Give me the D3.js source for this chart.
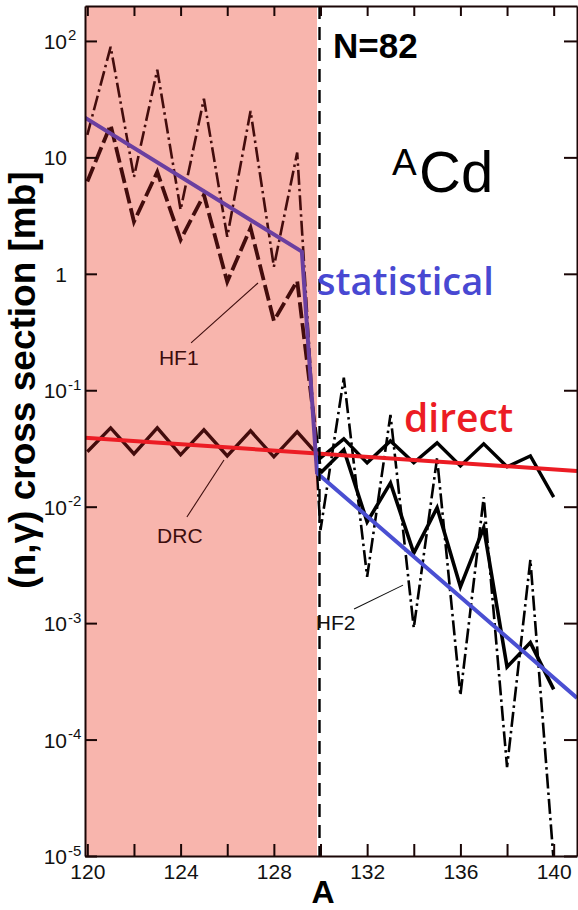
<!DOCTYPE html>
<html><head><meta charset="utf-8">
<script src="https://cdn.jsdelivr.net/npm/d3@7"></script>
<style>body{margin:0;background:#fff}svg{display:block}</style>
</head><body>
<svg id="chart" width="578" height="910"></svg>
<script>
// ---------- data ----------
const massNumbers = d3.range(120, 141);            // A = 120 .. 140
// HF1 (thick dashed in the shaded region, thick solid beyond N=82)
const hf1Values = [6.2, 19, 2.8, 7.5, 1.96, 4.77, 0.853, 2.48, 0.394, 0.87, 0.0195,
                   0.0308, 7.4e-3, 0.016, 4.0e-3, 9.8e-3, 2.05e-3, 6.6e-3, 4.2e-4, 6.8e-4, 2.7e-4];
// HF2 (dash-dot)
const hf2Values = [15.6, 89, 6.8, 56.6, 3.55, 31.9, 2.08, 25, 1.15, 11, 6.3e-3,
                   0.128, 2.5e-3, 0.0615, 9.1e-4, 0.0262, 2.4e-4, 0.0121, 5.8e-5, 3.5e-3, 9e-6];
// DRC (direct capture, solid)
const drcValues = [0.0296, 0.0475, 0.0284, 0.0475, 0.0279, 0.0457, 0.0273, 0.0448, 0.0268, 0.044, 0.0262,
                   0.0382, 0.0238, 0.0367, 0.0238, 0.0353, 0.0224, 0.0347, 0.022, 0.0273, 0.0121];
// trend lines
const directA = [119.9, 141];
const directValues = [0.039, 0.0203];
const statisticalA = [119.9, 129.2, 129.85, 141];
const statisticalValues = [21.9, 1.55, 0.0195, 2.28e-4];
// shaded region / shell closure
const shadedRange = [119.9, 129.85];
const shellClosureA = 130;
// axes
const xDomain = [119.9, 141];
const yDomain = [1e-5, Math.pow(10, 2.3)];
const xTickValues = [120, 122, 124, 126, 128, 130, 132, 134, 136, 138, 140];
const xTickLabels = [120, 124, 128, 132, 136, 140];
const yTickExponents = [-5, -4, -3, -2, -1, 0, 1, 2];
// annotations (data space)
const annotations = [
  {text: "HF1", at: [123.07, 0.165], from: [124.45, 0.255], to: [127.32, 0.834], color: "#3d0d0d"},
  {text: "DRC", at: [122.99, 4.88e-3], from: [124.27, 8.15e-3], to: [125.86, 0.0252], color: "#3d0d0d"},
  {text: "HF2", at: [129.8, 8.73e-4], from: [131.44, 1.32e-3], to: [133.54, 2.12e-3], color: "#111"}
];

// ---------- drawing ----------
const svg = d3.select("#chart");
const W = 578, H = 910;
const xScale = d3.scaleLinear().domain(xDomain).range([85, 577]);
const yScale = d3.scaleLog().domain(yDomain).range([856, 6]);
const tickFont = "Liberation Sans Narrow, Arial Narrow, Liberation Sans, sans-serif";

const defs = svg.append("defs");
defs.append("clipPath").attr("id", "plot").append("rect")
  .attr("x", xScale(xDomain[0])).attr("y", yScale(yDomain[1]))
  .attr("width", xScale(xDomain[1]) - xScale(xDomain[0]))
  .attr("height", yScale(yDomain[0]) - yScale(yDomain[1]));

const edge = xScale(shadedRange[1]) / W;
function splitGrad(id, c1, c2) {
  const g = defs.append("linearGradient").attr("id", id)
    .attr("gradientUnits", "userSpaceOnUse").attr("x1", 0).attr("x2", W).attr("y1", 0).attr("y2", 0);
  g.append("stop").attr("offset", edge).attr("stop-color", c1);
  g.append("stop").attr("offset", edge).attr("stop-color", c2);
}
splitGrad("ink", "#430c0c", "#000");
splitGrad("stat", "#6a3fa0", "#4a4fd2");

// shaded region
svg.append("rect")
  .attr("x", xScale(shadedRange[0])).attr("y", yScale(yDomain[1]))
  .attr("width", xScale(shadedRange[1]) - xScale(shadedRange[0]))
  .attr("height", yScale(yDomain[0]) - yScale(yDomain[1]))
  .attr("fill", "#f8b5ad");

const plot = svg.append("g").attr("clip-path", "url(#plot)");
const line = d3.line().x(d => xScale(d[0])).y(d => yScale(d[1]));
const zip = (a, b) => a.map((v, i) => [v, b[i]]);

const hf1 = zip(massNumbers, hf1Values);
const hf2 = zip(massNumbers, hf2Values);
const drc = zip(massNumbers, drcValues);

// DRC
plot.append("path").attr("d", line(drc)).attr("fill", "none")
  .attr("stroke", "url(#ink)").attr("stroke-width", 3.4);
// HF2 dash-dot
plot.append("path").attr("d", line(hf2)).attr("fill", "none")
  .attr("stroke", "url(#ink)").attr("stroke-width", 2.6)
  .attr("stroke-dasharray", "15,4,2.5,4");
// HF1 left dashed
plot.append("path").attr("d", line(hf1.filter(d => d[0] <= shellClosureA))).attr("fill", "none")
  .attr("stroke", "url(#ink)").attr("stroke-width", 3.8).attr("stroke-dasharray", "16,5");
// HF1 right solid
plot.append("path").attr("d", line(hf1.filter(d => d[0] >= shellClosureA))).attr("fill", "none")
  .attr("stroke", "#000").attr("stroke-width", 3.6);

// trend lines
plot.append("path").attr("d", line(zip(directA, directValues))).attr("fill", "none")
  .attr("stroke", "#ec1c24").attr("stroke-width", 4);
plot.append("path").attr("d", line(zip(statisticalA, statisticalValues))).attr("fill", "none")
  .attr("stroke", "url(#stat)").attr("stroke-width", 4);

// shell closure line
svg.append("line")
  .attr("x1", xScale(shellClosureA) - 1).attr("x2", xScale(shellClosureA) - 1)
  .attr("y1", yScale(yDomain[1])).attr("y2", yScale(yDomain[0]))
  .attr("stroke", "#000").attr("stroke-width", 2.4).attr("stroke-dasharray", "13,8");

// axes
const axisColor = "#1a0606";
function styleAxis(g) {
  g.selectAll(".domain").attr("stroke", axisColor).attr("stroke-width", 2);
  g.selectAll(".tick line").attr("stroke", axisColor).attr("stroke-width", 2);
}
const axB = svg.append("g").attr("transform", `translate(0,${yScale(yDomain[0])})`)
  .call(d3.axisBottom(xScale).tickValues(xTickValues).tickSize(-12).tickSizeOuter(0).tickPadding(8)
    .tickFormat(d => xTickLabels.includes(d) ? String(d) : ""));
styleAxis(axB);
axB.selectAll("text").attr("font-family", tickFont)
  .attr("font-size", 21).attr("fill", "#111");

const axT = svg.append("g").attr("transform", `translate(0,${yScale(yDomain[1])})`)
  .call(d3.axisTop(xScale).tickValues(xTickValues).tickSize(-10).tickSizeOuter(0).tickFormat(""));
styleAxis(axT);

const yTicks = yTickExponents.map(e => Math.pow(10, e));
const axL = svg.append("g").attr("transform", `translate(${xScale(xDomain[0])},0)`)
  .call(d3.axisLeft(yScale).tickValues(yTicks).tickSize(-12).tickSizeOuter(0).tickFormat(""));
styleAxis(axL);
axL.selectAll(".tick").each(function(d, i) {
  const e = yTickExponents[i];
  const g = d3.select(this);
  g.selectAll("text").remove();
  const base = e === 0 ? "1" : "10";
  g.append("text").attr("x", -18).attr("y", 7.5).attr("text-anchor", "end")
    .attr("font-family", tickFont).attr("font-size", 21)
    .attr("fill", "#111").text(base);
  if (e !== 0 && e !== 1) {
    g.append("text").attr("x", -17).attr("y", -1).attr("text-anchor", "start")
      .attr("font-family", tickFont).attr("font-size", 15)
      .attr("fill", "#111").text(e < 0 ? "-" + Math.abs(e) : String(e));
  }
});

const axR = svg.append("g").attr("transform", `translate(${xScale(xDomain[1])},0)`)
  .call(d3.axisRight(yScale).tickValues(yTicks).tickSize(-13).tickSizeOuter(0).tickFormat(""));
styleAxis(axR);

// annotations
annotations.forEach(a => {
  svg.append("line").attr("x1", xScale(a.from[0])).attr("y1", yScale(a.from[1]))
    .attr("x2", xScale(a.to[0])).attr("y2", yScale(a.to[1]))
    .attr("stroke", a.color).attr("stroke-width", 1.1);
  svg.append("text").attr("x", xScale(a.at[0])).attr("y", yScale(a.at[1]))
    .attr("font-family", tickFont).attr("font-size", 21)
    .attr("fill", a.color).text(a.text);
});

// titles / labels
svg.append("text").attr("x", 333).attr("y", 58)
  .attr("font-family", "Liberation Sans, Arial, sans-serif").attr("font-weight", "bold")
  .attr("font-size", 35).attr("fill", "#000").text("N=82");
svg.append("text").attr("x", 392).attr("y", 175)
  .attr("font-family", "Liberation Sans, Arial, sans-serif").attr("font-size", 37)
  .attr("fill", "#000").text("A");
svg.append("text").attr("x", 419).attr("y", 192)
  .attr("font-family", "Liberation Sans, Arial, sans-serif").attr("font-size", 58)
  .attr("fill", "#000").text("Cd");
svg.append("text").attr("x", 317).attr("y", 295)
  .attr("font-family", "Open Sans, Noto Sans, sans-serif").attr("font-weight", 600)
  .attr("font-size", 38).attr("fill", "#4848d2").text("statistical");
svg.append("text").attr("x", 404).attr("y", 432)
  .attr("font-family", "Open Sans, Noto Sans, sans-serif").attr("font-weight", 600)
  .attr("font-size", 39).attr("fill", "#ec1c24").text("direct");

svg.append("text").attr("x", 323).attr("y", 903).attr("text-anchor", "middle")
  .attr("font-family", "Liberation Sans, Arial, sans-serif").attr("font-weight", "bold")
  .attr("font-size", 32).attr("fill", "#000").text("A");
svg.append("text").attr("transform", "translate(35,380) rotate(-90)").attr("text-anchor", "middle")
  .attr("font-family", "Liberation Sans, Arial, sans-serif").attr("font-weight", "bold")
  .attr("font-size", 37).attr("fill", "#000").text("(n,γ) cross section [mb]");
</script>
</body></html>
